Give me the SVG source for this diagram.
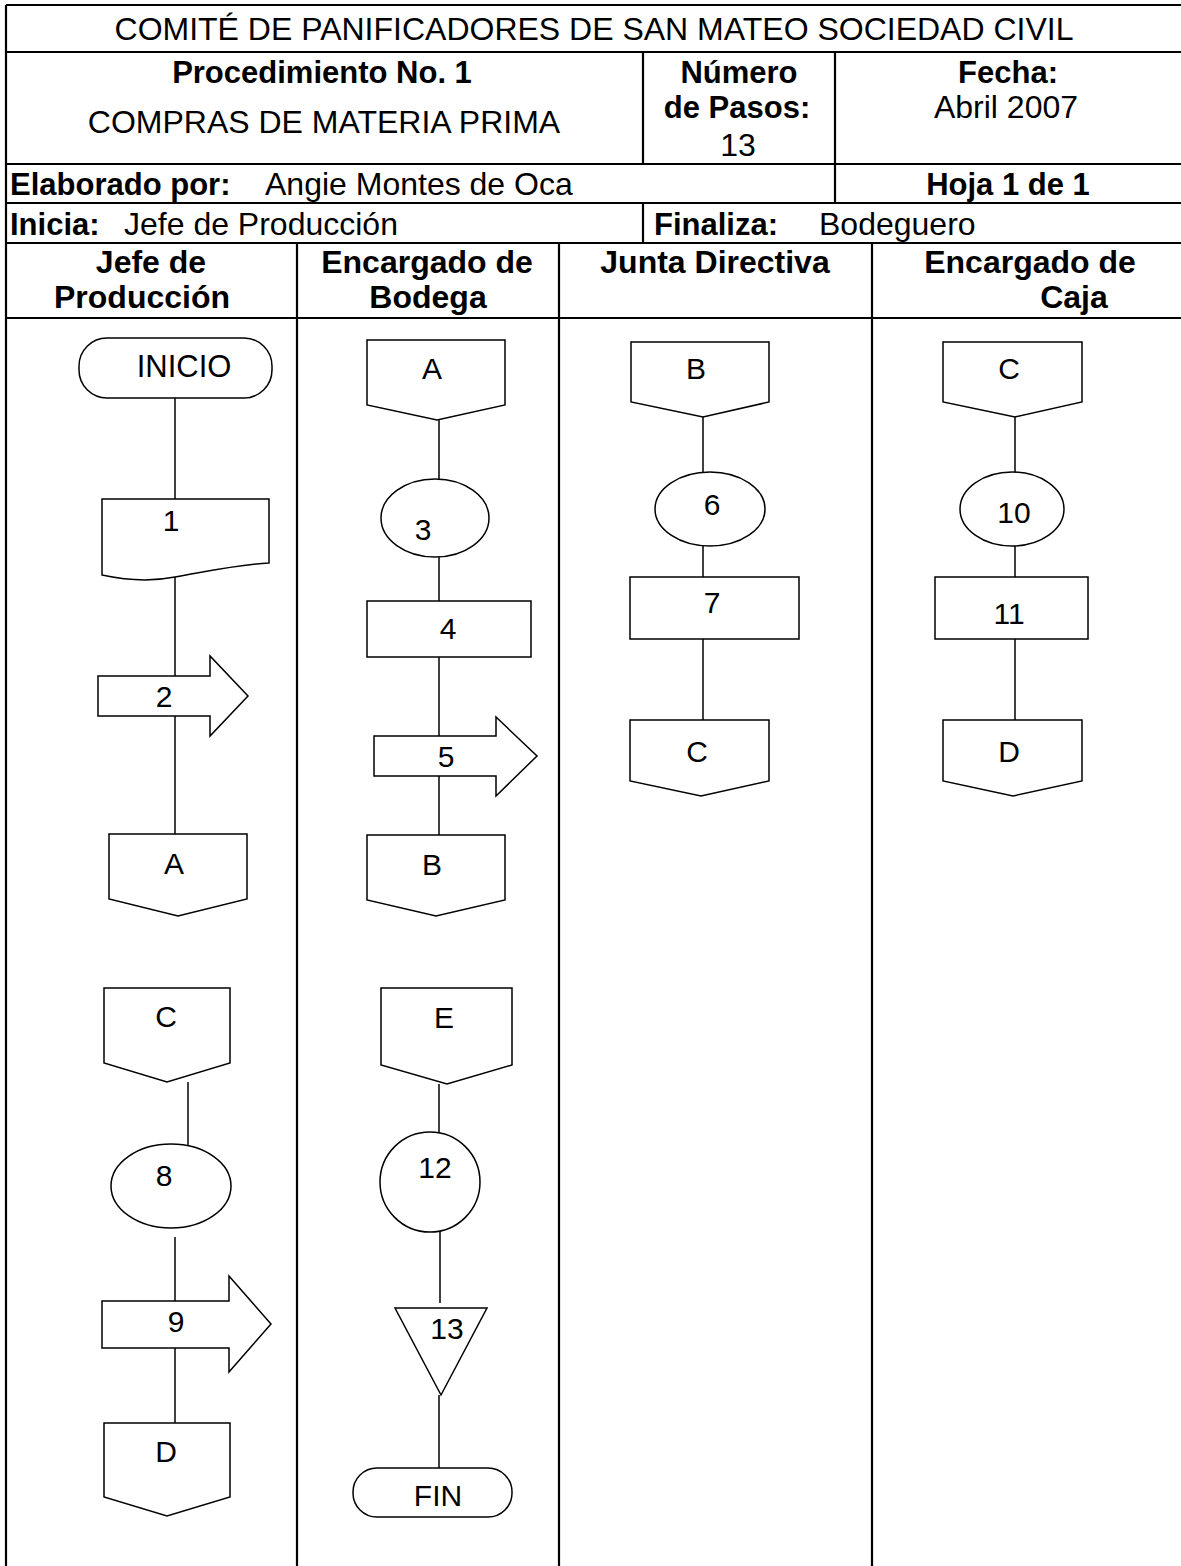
<svg xmlns="http://www.w3.org/2000/svg" width="1181" height="1566" viewBox="0 0 1181 1566">
<style>
text{font-family:"Liberation Sans",Arial,sans-serif;fill:#000}
.r{font-size:32px}
.b{font-size:31px;font-weight:bold}
.h{font-size:32px;font-weight:bold}
.m{text-anchor:middle}
.l{font-size:30px;text-anchor:middle}
.grid line{stroke:#000;stroke-width:2.2}
.s{fill:#fff;stroke:#000;stroke-width:1.5}
.conn line{stroke:#000;stroke-width:1.5}
</style>
<rect width="1181" height="1566" fill="#fff"/>
<g id="table" class="grid">
<line x1="6" y1="5" x2="1181" y2="5"/>
<line x1="6" y1="5" x2="6" y2="1566"/>
<line x1="6" y1="52" x2="1181" y2="52"/>
<line x1="6" y1="164" x2="1181" y2="164"/>
<line x1="6" y1="203" x2="1181" y2="203"/>
<line x1="6" y1="243" x2="1181" y2="243"/>
<line x1="6" y1="318" x2="1181" y2="318"/>
<line x1="643" y1="52" x2="643" y2="164"/>
<line x1="835" y1="52" x2="835" y2="203"/>
<line x1="643" y1="203" x2="643" y2="243"/>
<line x1="297" y1="243" x2="297" y2="1566"/>
<line x1="559" y1="243" x2="559" y2="1566"/>
<line x1="872" y1="243" x2="872" y2="1566"/>
</g>
<g id="header">
<text class="r m" x="594" y="40">COMITÉ DE PANIFICADORES DE SAN MATEO SOCIEDAD CIVIL</text>
<text class="b m" x="322" y="83">Procedimiento No. 1</text>
<text class="r m" x="324" y="133">COMPRAS DE MATERIA PRIMA</text>
<text class="b m" x="739" y="83">Número</text>
<text class="b m" x="737" y="118">de Pasos:</text>
<text class="r m" x="738" y="156">13</text>
<text class="b m" x="1008" y="83">Fecha:</text>
<text class="r m" x="1006" y="118">Abril 2007</text>
<text class="b" x="10" y="195">Elaborado por:</text>
<text class="r" x="265" y="195">Angie Montes de Oca</text>
<text class="b m" x="1008" y="195">Hoja 1 de 1</text>
<text class="b" x="10" y="235">Inicia:</text>
<text class="r" x="124" y="235">Jefe de Producción</text>
<text class="b" x="654" y="235">Finaliza:</text>
<text class="r" x="819" y="235">Bodeguero</text>
<text class="h m" x="151" y="273">Jefe de</text>
<text class="h m" x="142" y="308">Producción</text>
<text class="h m" x="427" y="273">Encargado de</text>
<text class="h m" x="428" y="308">Bodega</text>
<text class="h m" x="715" y="273">Junta Directiva</text>
<text class="h m" x="1030" y="273">Encargado de</text>
<text class="h m" x="1074" y="308">Caja</text>
</g>
<g id="connectors" class="conn">
<line x1="175" y1="398" x2="175" y2="499"/>
<line x1="175" y1="577" x2="175" y2="676"/>
<line x1="175" y1="716" x2="175" y2="834"/>
<line x1="188" y1="1082" x2="188" y2="1145"/>
<line x1="175" y1="1237" x2="175" y2="1301"/>
<line x1="175" y1="1348" x2="175" y2="1423"/>
<line x1="439" y1="420" x2="439" y2="479"/>
<line x1="439" y1="557" x2="439" y2="601"/>
<line x1="439" y1="657" x2="439" y2="736"/>
<line x1="439" y1="776" x2="439" y2="835"/>
<line x1="439" y1="1084" x2="439" y2="1137"/>
<line x1="440" y1="1229" x2="440" y2="1303"/>
<line x1="439" y1="1395" x2="439" y2="1468"/>
<line x1="703" y1="417" x2="703" y2="472"/>
<line x1="703" y1="546" x2="703" y2="577"/>
<line x1="703" y1="639" x2="703" y2="720"/>
<line x1="1015" y1="417" x2="1015" y2="472"/>
<line x1="1015" y1="546" x2="1015" y2="577"/>
<line x1="1015" y1="639" x2="1015" y2="720"/>
</g>
<g id="n-inicio"><rect class="s" x="79" y="338" width="193" height="60" rx="28"/><text class="l" style="font-size:31px" x="184" y="377">INICIO</text></g>
<g id="n-1"><path class="s" d="M102,499 H269 V563 C235,565 205,572 175,577 C150,582 125,580 102,575 Z"/><text class="l" x="171" y="531">1</text></g>
<g id="n-2"><polygon class="s" points="98,676 210,676 210,656 248,696 210,736 210,716 98,716"/><text class="l" x="164" y="707">2</text></g>
<g id="n-A1"><polygon class="s" points="109,834 247,834 247,899 178,916 109,899"/><text class="l" x="174" y="874">A</text></g>
<g id="n-C1"><polygon class="s" points="104,988 230,988 230,1063 167,1082 104,1063"/><text class="l" x="166" y="1027">C</text></g>
<g id="n-8"><ellipse class="s" cx="171" cy="1186" rx="60" ry="42"/><text class="l" x="164" y="1186">8</text></g>
<g id="n-9"><polygon class="s" points="102,1301 229,1301 229,1276 271,1324 229,1372 229,1348 102,1348"/><text class="l" x="176" y="1332">9</text></g>
<g id="n-D1"><polygon class="s" points="104,1423 230,1423 230,1497 167,1516 104,1497"/><text class="l" x="166" y="1462">D</text></g>
<g id="n-A2"><polygon class="s" points="367,340 505,340 505,405 437,420 367,405"/><text class="l" x="432" y="379">A</text></g>
<g id="n-3"><ellipse class="s" cx="435" cy="518" rx="54" ry="39"/><text class="l" x="423" y="540">3</text></g>
<g id="n-4"><rect class="s" x="367" y="601" width="164" height="56"/><text class="l" x="448" y="639">4</text></g>
<g id="n-5"><polygon class="s" points="374,736 496,736 496,717 537,756 496,796 496,776 374,776"/><text class="l" x="446" y="767">5</text></g>
<g id="n-B2"><polygon class="s" points="367,835 505,835 505,900 436,916 367,900"/><text class="l" x="432" y="875">B</text></g>
<g id="n-E"><polygon class="s" points="381,988 512,988 512,1065 447,1084 381,1065"/><text class="l" x="444" y="1028">E</text></g>
<g id="n-12"><circle class="s" cx="430" cy="1182" r="50"/><text class="l" x="435" y="1178">12</text></g>
<g id="n-13"><polygon class="s" points="395,1308 487,1308 441,1395"/><text class="l" x="447" y="1339">13</text></g>
<g id="n-fin"><rect class="s" x="353" y="1468" width="159" height="49" rx="24"/><text class="l" x="438" y="1506">FIN</text></g>
<g id="n-B3"><polygon class="s" points="631,342 769,342 769,402 703,417 631,402"/><text class="l" x="696" y="379">B</text></g>
<g id="n-6"><ellipse class="s" cx="710" cy="509" rx="55" ry="37"/><text class="l" x="712" y="515">6</text></g>
<g id="n-7"><rect class="s" x="630" y="577" width="169" height="62"/><text class="l" x="712" y="613">7</text></g>
<g id="n-C3"><polygon class="s" points="630,720 769,720 769,781 701,796 630,781"/><text class="l" x="697" y="762">C</text></g>
<g id="n-C4"><polygon class="s" points="943,342 1082,342 1082,402 1015,417 943,402"/><text class="l" x="1009" y="379">C</text></g>
<g id="n-10"><ellipse class="s" cx="1012" cy="509" rx="52" ry="37"/><text class="l" x="1014" y="523">10</text></g>
<g id="n-11"><rect class="s" x="935" y="577" width="153" height="62"/><text class="l" x="1009" y="624">11</text></g>
<g id="n-D4"><polygon class="s" points="943,720 1082,720 1082,781 1013,796 943,781"/><text class="l" x="1009" y="762">D</text></g>
</svg>
